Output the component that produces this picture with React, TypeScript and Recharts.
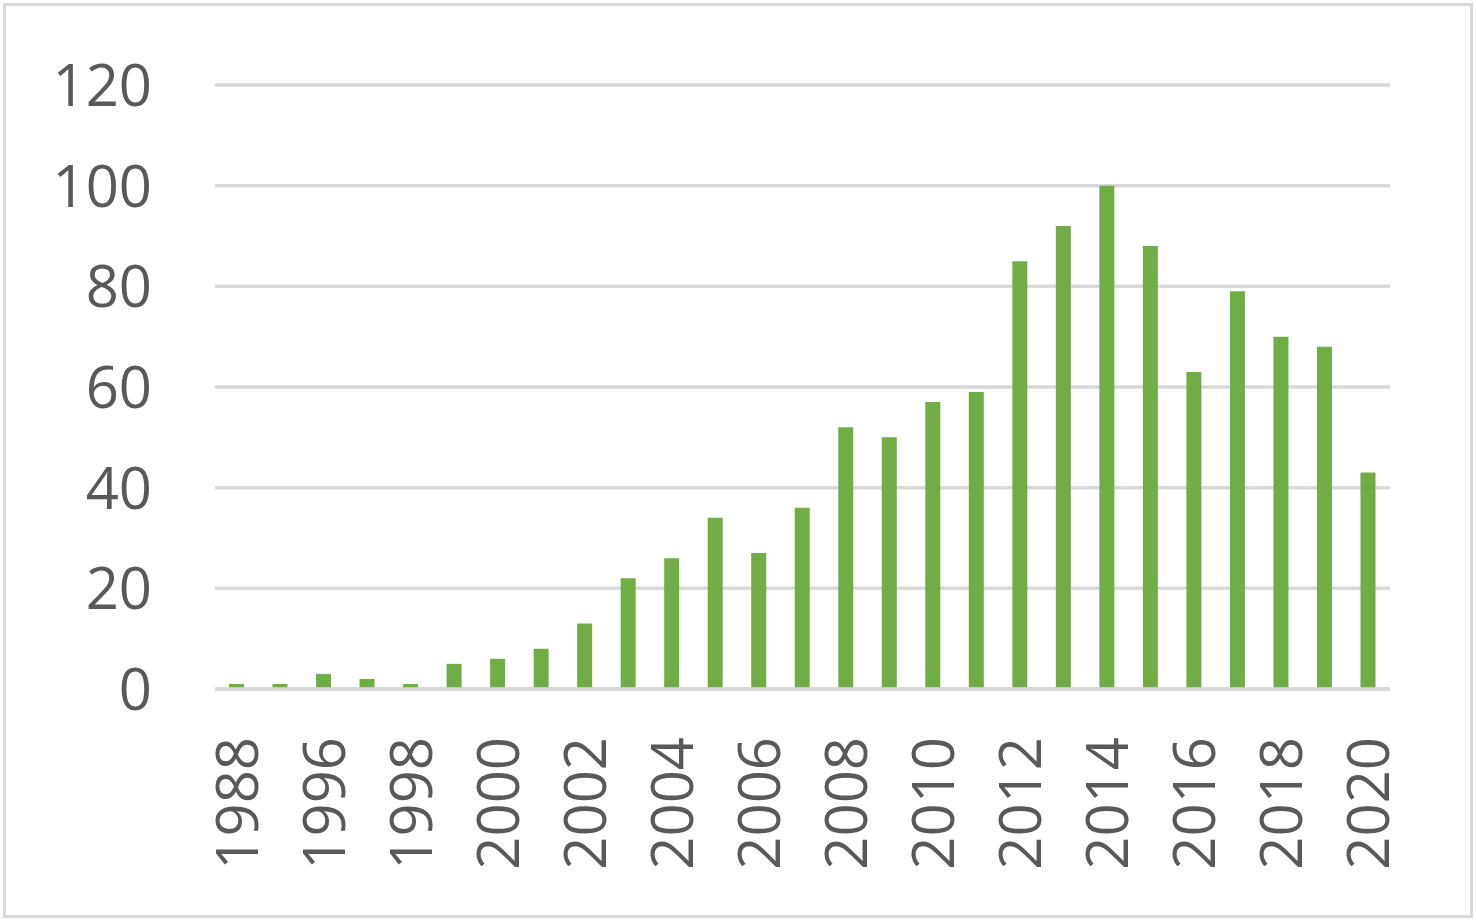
import React from "react";
import { BarChart, Bar, XAxis, YAxis, CartesianGrid } from "recharts";

const years = [
  "1988", "1995", "1996", "1997", "1998", "1999", "2000", "2001", "2002",
  "2003", "2004", "2005", "2006", "2007", "2008", "2009", "2010", "2011",
  "2012", "2013", "2014", "2015", "2016", "2017", "2018", "2019", "2020",
];
const counts = [
  1, 1, 3, 2, 1, 5, 6, 8, 13,
  22, 26, 34, 27, 36, 52, 50, 57, 59,
  85, 92, 100, 88, 63, 79, 70, 68, 43,
];
const yTicks = [0, 20, 40, 60, 80, 100, 120];

const data = years.map((y, i) => ({ year: y, value: counts[i] }));

const FONT = "'Open Sans', 'Noto Sans', sans-serif";
const TEXT = "#595959";
const GRID = "#d9d9d9";

const XTick = (props: any) => {
  const { x, y, payload } = props;
  return (
    <text
      x={x}
      y={y}
      transform={`rotate(-90, ${x}, ${y})`}
      textAnchor="end"
      dy="0.36em"
      fill={TEXT}
      fontSize={58}
      fontFamily={FONT}
    >
      {payload.value}
    </text>
  );
};

const YTick = (props: any) => {
  const { x, y, payload } = props;
  return (
    <text
      x={x}
      y={y}
      textAnchor="end"
      dy="0.36em"
      fill={TEXT}
      fontSize={58}
      fontFamily={FONT}
    >
      {payload.value}
    </text>
  );
};

export default function App() {
  return (
    <div style={{ position: "absolute", left: 0, top: 0, width: 1476, height: 921, background: "#fff" }}>
      <div
        style={{
          position: "absolute",
          left: 3,
          top: 3,
          width: 1470,
          height: 915,
          border: `3px solid ${GRID}`,
          boxSizing: "border-box",
        }}
      />
      <div style={{ position: "absolute", left: 0, top: 0 }}>
        <BarChart
          width={1476}
          height={921}
          data={data}
          margin={{ top: 85, right: 86, bottom: 0, left: 0 }}
        >
          <CartesianGrid vertical={false} stroke={GRID} strokeWidth={3.5} />
          <XAxis
            dataKey="year"
            height={232}
            interval={1}
            tickLine={false}
            tickSize={0}
            tickMargin={48}
            axisLine={{ stroke: GRID, strokeWidth: 3.5 }}
            tick={<XTick />}
          />
          <YAxis
            width={215}
            domain={[0, 120]}
            ticks={yTicks}
            interval={0}
            axisLine={false}
            tickLine={false}
            tickSize={0}
            tickMargin={63}
            tick={<YTick />}
          />
          <Bar dataKey="value" fill="#70ad47" barSize={15} isAnimationActive={false} />
        </BarChart>
      </div>
    </div>
  );
}
